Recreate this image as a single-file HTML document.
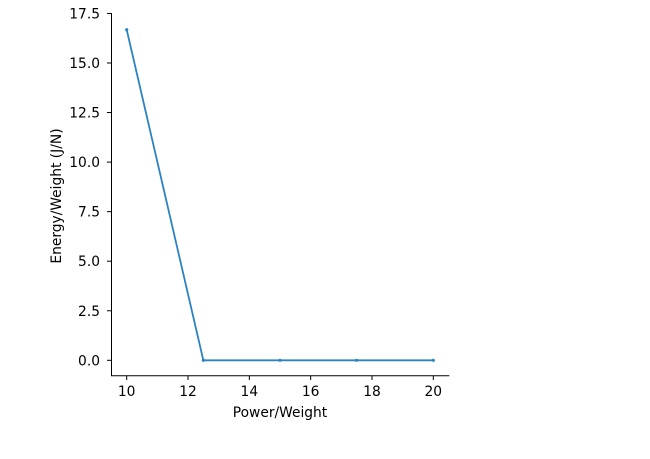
<!DOCTYPE html>
<html><head><meta charset="utf-8"><style>
body{margin:0;background:#fff;}
svg{display:block;font-family:"DejaVu Sans","Liberation Sans",sans-serif;}
</style></head><body>
<svg id="chart" width="650" height="459" viewBox="0 0 650 459"></svg>
<script>
const xValues=[10,12.5,15,17.5,20];
const yValues=[16.68,0,0,0,0];
const xTicks=[10,12,14,16,18,20];
const yTicks=[0,2.5,5,7.5,10,12.5,15,17.5];
const yTickLabels=["0.0","2.5","5.0","7.5","10.0","12.5","15.0","17.5"];

const NS="http://www.w3.org/2000/svg";
const svg=document.getElementById('chart');
const sx=v=>126.7+(v-10)*30.66;
const sy=v=>360.3-v*19.82;
function mk(t,a,p){const e=document.createElementNS(NS,t);for(const k in a)e.setAttribute(k,a[k]);(p||svg).appendChild(e);return e;}

const ax=mk('g',{});


const ls=mk('line',{x1:111.5,y1:13,x2:111.5,y2:376,stroke:'#000','stroke-width':1},ax);


const bs=mk('line',{x1:111,y1:375.7,x2:449.3,y2:375.7,stroke:'#000','stroke-width':1},ax);



xTicks.forEach(v=>{
  const x=sx(v);
  const t=mk('line',{x1:x,y1:376,x2:x,y2:380,stroke:'#000','stroke-width':1},ax);
  
  
  const l=mk('text',{x:x,y:396,'text-anchor':'middle','font-size':13.8},ax);
  l.textContent=v;
  
  
});
yTicks.forEach((v,i)=>{
  const y=sy(v);
  const t=mk('line',{x1:107,y1:y,x2:111.5,y2:y,stroke:'#000','stroke-width':1},ax);
  
  
  const l=mk('text',{x:100,y:y+5,'text-anchor':'end','font-size':13.8},ax);
  l.textContent=yTickLabels[i];
  
  
});
const xt=mk('text',{x:280,y:417,'text-anchor':'middle','font-size':13.8});
xt.textContent='Power/Weight';


const yt=mk('text',{x:61,y:196,'text-anchor':'middle','font-size':13.8,transform:'rotate(-90 61 196)'});
yt.textContent='Energy/Weight (J/N)';



const pts=xValues.map((v,i)=>sx(v)+','+sy(yValues[i])).join(' ');
const line=mk('polyline',{points:pts,fill:'none',stroke:'#2b83c0','stroke-width':1.8});


xValues.forEach((v,i)=>{
  const c=mk('circle',{cx:sx(v),cy:sy(yValues[i]),r:1.6,fill:'#2b83c0'});
  
  
});
</script>
</body></html>
